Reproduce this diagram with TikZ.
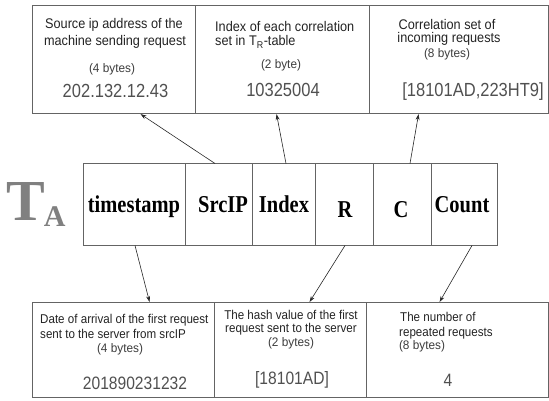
\documentclass[tikz,border=0pt]{standalone}
\usepackage{fontspec}
\setmainfont{Liberation Serif}
\newfontfamily\arialf{Liberation Sans}
\usetikzlibrary{arrows.meta}
\definecolor{boxline}{RGB}{100,100,100}
\definecolor{desc}{RGB}{35,35,35}
\definecolor{bytc}{RGB}{60,60,60}
\definecolor{valc}{RGB}{80,80,80}
\definecolor{tagc}{RGB}{128,128,128}
\tikzset{
  box/.style={draw=boxline, line width=1.1pt, rectangle, inner sep=0pt, anchor=north west},
  cell/.style={draw=boxline, line width=1pt, rectangle, inner sep=0pt, minimum height=81pt},
  celltext/.style={font=\fontsize{20.5}{22}\selectfont\bfseries, text=black, inner sep=0pt, anchor=base, yscale=1.18},
  dtop/.style={font=\arialf\fontsize{12.7}{15}\selectfont, text=desc, inner sep=0pt, yscale=1.1},
  dbot/.style={font=\arialf\fontsize{11.6}{14}\selectfont, text=desc, inner sep=0pt, yscale=1.1},
  btext/.style={font=\arialf\fontsize{11.8}{14}\selectfont, text=bytc, inner sep=0pt, yscale=1.05},
  vtop/.style={font=\arialf\fontsize{16.5}{18}\selectfont, text=valc, inner sep=0pt, yscale=1.15},
  vbot/.style={font=\arialf\fontsize{15.6}{18}\selectfont, text=valc, inner sep=0pt, yscale=1.15},
  arr/.style={draw=black!85, line width=0.6pt, -{Stealth[length=6pt,width=4pt]}}
}
\begin{document}
\begin{tikzpicture}[x=1pt,y=-1pt]
\useasboundingbox (0,0) rectangle (549,401);
% top boxes
\node[box, minimum width=163pt, minimum height=108pt] (srcbox) at (32,5) {};
\node[box, minimum width=174pt, minimum height=108pt] (idxbox) at (195,5) {};
\node[box, minimum width=179pt, minimum height=108pt] (corbox) at (369,5) {};
% bottom boxes
\node[box, minimum width=182pt, minimum height=95pt] (datebox) at (32,302) {};
\node[box, minimum width=152pt, minimum height=95pt] (hashbox) at (214,302) {};
\node[box, minimum width=182pt, minimum height=95pt] (numbox) at (366,302) {};
% middle table
\node[cell, minimum width=102pt] (ts) at (134,204.5) {};
\node[cell, minimum width=67pt] (sip) at (218.5,204.5) {};
\node[cell, minimum width=63pt] (ix) at (283.5,204.5) {};
\node[cell, minimum width=58pt] (rr) at (344,204.5) {};
\node[cell, minimum width=58pt] (cc) at (402,204.5) {};
\node[cell, minimum width=66pt] (cnt) at (464,204.5) {};
\node[celltext] (tst) at (134,212) {timestamp};
\node[celltext] (sipt) at (223,212) {SrcIP};
\node[celltext] (ixt) at (284,212) {Index};
\node[celltext] (rrt) at (345,217) {R};
\node[celltext] (cct) at (401,217) {C};
\node[celltext] (cntt) at (462,212) {Count};
% T_A label
\node[font=\fontsize{58}{60}\selectfont\bfseries, text=tagc, inner sep=0pt, anchor=base west] (tag) at (6,220)
  {T\kern-1pt\raisebox{-6.5pt}{\fontsize{30}{32}\selectfont A}};
% top box 1
\node[dtop] (s1) at (114,25) {Source ip address of the};
\node[dtop] (s1b) at (115,42) {machine sending request};
\node[btext] (s2) at (112,69) {(4 bytes)};
\node[vtop] (s3) at (115.5,91) {202.132.12.43};
% top box 2
\node[dtop, anchor=west] (i1) at (215,27) {Index of each correlation};
\node[dtop, anchor=west] (i2) at (215,42) {set in T\textsubscript{R}-table};
\node[btext] (i3) at (281,65) {(2 byte)};
\node[vtop] (i4) at (283,90) {10325004};
% top box 3
\node[dtop] (c1) at (447,25) {Correlation set of};
\node[dtop] (c1b) at (449,39) {incoming requests};
\node[btext] (c2) at (447,54) {(8 bytes)};
\node[vtop] (c3) at (473,92) {[18101AD,223HT9]};
% bottom box 1
\node[dbot, anchor=west] (d1) at (40,320) {Date of arrival of the first request};
\node[dbot, anchor=west] (d2) at (40,334) {sent to the server from srcIP};
\node[btext] (d3) at (120,349) {(4 bytes)};
\node[vbot] (d4) at (135,383) {201890231232};
% bottom box 2
\node[dbot] (h1) at (291,315) {The hash value of the first};
\node[dbot] (h1b) at (291,329) {request sent to the server};
\node[btext] (h2) at (291,343) {(2 bytes)};
\node[vbot] (h3) at (292,380) {[18101AD]};
% bottom box 3
\node[dbot, anchor=west] (n1) at (400,317) {The number of};
\node[dbot, anchor=west] (n2) at (399,333) {repeated requests};
\node[btext] (n3) at (422,346) {(8 bytes)};
\node[vbot] (n4) at (448,380) {4};
% arrows
\draw[arr] ([xshift=-3.5pt]sip.north) -- ([xshift=26.5pt]srcbox.south);
\draw[arr] ([xshift=2.5pt]ix.north) -- ([xshift=-6pt]idxbox.south);
\draw[arr] ([xshift=8pt]cc.north) -- ([xshift=-40.5pt]corbox.south);
\draw[arr] ([xshift=1pt]ts.south) -- ([xshift=26pt]datebox.north);
\draw[arr] ([xshift=1pt]rr.south) -- ([xshift=19pt]hashbox.north);
\draw[arr] ([xshift=8pt]cnt.south) -- ([xshift=-18pt]numbox.north);
\end{tikzpicture}
\end{document}
